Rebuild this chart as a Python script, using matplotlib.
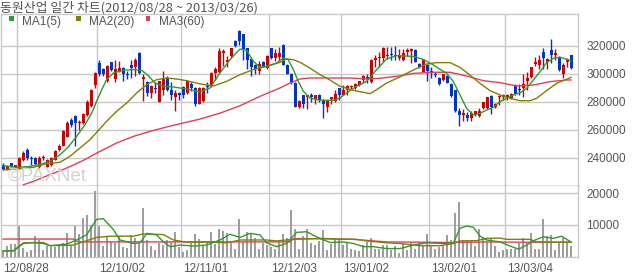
"""Daily candle chart with moving averages and volume (동원산업)."""
import numpy as np
import matplotlib
matplotlib.use("Agg")
import matplotlib.pyplot as plt
from matplotlib.patches import Rectangle

TITLE = "동원산업 일간 차트(2012/08/28 ~ 2013/03/26)"

opens = [
    235000, 232000, 236000, 233500, 232500, 238000, 245500, 240000, 240000, 233000,
    239500, 233500, 234500, 238500, 245500, 248500, 255000, 267000, 269500, 264500,
    264500, 270500, 277000, 292000, 307500, 303000, 294500, 308000, 296000, 301500,
    304000, 300000, 306500, 305000, 315000, 296500, 294000, 286500, 290000, 280000,
    288500, 297000, 288000, 283000, 286500, 290500, 286000, 292500, 290000, 278500,
    280500, 291500, 291000, 300500, 301500, 315000, 308500, 312500, 323500, 330500,
    328000, 318000, 310500, 306500, 302000, 308500, 304000, 318000, 311000, 312000,
    320500, 306500, 300000, 293500, 276500, 284500, 283500, 284500, 282000, 284500,
    281500, 276500, 282000, 280500, 289500, 285000, 288500, 290500, 289500, 292000,
    295500, 297500, 294000, 310000, 311000, 311000, 312500, 314000, 313000, 311000,
    309500, 315500, 316500, 317000, 307000, 301500, 306500, 301500, 299500, 297000,
    295500, 298500, 292500, 288000, 273500, 270500, 270500, 268000, 270500, 270000,
    275500, 275500, 284000, 276000, 283500, 283000, 283500, 282500, 292000, 289000,
    290000, 295000, 297500, 307000, 306000, 315500, 308000, 317000, 313000, 312000,
    299500, 308500, 313000,
]
highs = [
    236000, 235000, 236500, 235000, 240500, 245000, 247000, 241000, 240500, 241500,
    242000, 239000, 240500, 245500, 250000, 260000, 266500, 268000, 270500, 267000,
    272000, 281000, 289000, 301000, 309500, 304000, 306000, 308500, 309500, 309000,
    305000, 302000, 310000, 311500, 315500, 299500, 295000, 292000, 294000, 295000,
    302000, 298000, 294000, 288500, 287000, 291000, 295500, 294000, 290500, 290500,
    290500, 294000, 301000, 305000, 318500, 317500, 312500, 318500, 324000, 331500,
    328500, 318500, 311000, 307000, 309000, 309000, 313000, 318500, 317500, 319000,
    321000, 307000, 300500, 294000, 281500, 285000, 285000, 286000, 285000, 285500,
    282000, 281000, 283500, 288500, 290000, 292000, 292000, 292000, 293000, 295000,
    299000, 299500, 310500, 313000, 315500, 319000, 319000, 319000, 320000, 317500,
    317500, 318500, 318500, 317500, 307500, 310500, 307000, 305000, 301500, 297500,
    300000, 299000, 293000, 288500, 275500, 274500, 272500, 273000, 273500, 275500,
    280000, 283500, 284500, 279000, 285000, 285500, 285500, 286000, 292500, 292500,
    299500, 301500, 305000, 312000, 313000, 318000, 311000, 325000, 317500, 312500,
    307500, 311000, 313500,
]
lows = [
    231500, 231000, 233500, 233000, 232000, 237500, 238000, 235000, 235000, 232500,
    238500, 233000, 234000, 238000, 245000, 248000, 254500, 262000, 248500, 260000,
    264000, 270000, 276500, 289500, 298500, 298000, 294000, 302000, 294000, 301000,
    294500, 296000, 297000, 298500, 300000, 280500, 284000, 282500, 286500, 279500,
    285000, 287500, 281500, 273500, 281500, 282500, 285500, 287500, 277000, 278000,
    280000, 286500, 290500, 295500, 300500, 305500, 304500, 311500, 319000, 320500,
    309500, 303000, 298500, 299500, 299500, 304500, 303500, 310500, 309000, 309000,
    306000, 299500, 292500, 276000, 275500, 275500, 274500, 279500, 278500, 279500,
    268500, 272500, 278000, 280000, 281000, 284500, 284500, 289000, 289000, 291000,
    293000, 293000, 293500, 304500, 304500, 308500, 310500, 309500, 309500, 309500,
    309000, 312500, 307500, 308000, 304000, 301000, 295000, 297000, 297500, 292000,
    295000, 293000, 283500, 272500, 262500, 266500, 266500, 266500, 270000, 269000,
    275000, 275000, 271000, 275500, 277500, 281000, 281500, 282000, 285000, 285000,
    283500, 288500, 297000, 305500, 303000, 303000, 303500, 307500, 309500, 302000,
    297000, 304500, 303000,
]
closes = [
    232000, 234000, 234000, 234500, 240000, 243500, 240000, 239000, 235500, 240000,
    240500, 238500, 239500, 244500, 248500, 259000, 265000, 263000, 265000, 265000,
    271500, 280000, 288000, 300500, 299500, 299500, 305500, 302500, 303500, 304000,
    299500, 299000, 304000, 310000, 300500, 297500, 286000, 291000, 289000, 294500,
    296500, 288000, 285000, 286000, 284500, 285000, 295000, 290000, 278000, 290000,
    290000, 290500, 300500, 303500, 316500, 316000, 310000, 318000, 319500, 323500,
    317500, 309500, 305000, 303000, 307000, 305000, 312500, 311000, 315000, 315000,
    306500, 300000, 293500, 276500, 280500, 278500, 284500, 283500, 284500, 281000,
    278500, 280500, 283000, 285500, 285000, 288500, 291000, 291500, 292500, 294500,
    298000, 296500, 310000, 311000, 312000, 318500, 313500, 313000, 312500, 312500,
    315000, 317000, 317500, 308500, 304500, 310000, 302000, 301000, 299000, 292500,
    299500, 293500, 284000, 273000, 270500, 272000, 268000, 272000, 273000, 273500,
    279500, 283000, 276500, 278500, 284000, 285000, 284500, 285500, 285500, 288500,
    292500, 297000, 304500, 308000, 310000, 311500, 310500, 313500, 315000, 302500,
    306500, 310000, 304000,
]
volume = [
    1500, 3300, 3800, 3800, 9500, 2800, 1300, 2200, 6600, 5300,
    2200, 3400, 3000, 3000, 3500, 4300, 7300, 3500, 9600, 7200,
    12000, 13100, 9900, 20500, 9500, 3200, 6000, 4600, 4300, 6000,
    3000, 2700, 6700, 5900, 4300, 15200, 5200, 3200, 2000, 4300,
    3500, 5200, 4600, 7800, 3000, 1500, 2000, 4100, 7000, 5400,
    3500, 4600, 7800, 4000, 8600, 8000, 7400, 4400, 2500, 11700,
    4600, 7600, 7500, 5700, 2500, 4100, 3500, 3000, 2500, 4600,
    7200, 5700, 14500, 8600, 2500, 6300, 8600, 4300, 3500, 4800,
    8300, 2000, 3900, 5700, 5400, 3600, 4300, 2500, 2200, 1800,
    3600, 4600, 5700, 2300, 2300, 3600, 3600, 2000, 3300, 1200,
    3800, 2000, 4500, 2500, 4600, 3500, 7000, 3400, 2300, 3000,
    3500, 6800, 5200, 13700, 17200, 5200, 5200, 5200, 3300, 8600,
    6200, 4600, 5700, 3200, 1500, 2000, 2500, 2500, 2500, 4300,
    5700, 4300, 7500, 2500, 2500, 11800, 6400, 6800, 2000, 4600,
    5700, 4600, 3300,
]

ma5_x = [0, 3.4, 6.75, 10, 12.2, 14.25, 16.3, 18.4, 20.5, 22.2, 23.4, 24.7, 25.9, 27.6,
         30, 32.6, 34.7, 36.3, 38, 40, 42.6, 46, 49.25, 51.75, 54.25, 56.75, 59.25,
         60.9, 62.6, 64.25, 65.9, 68.4, 70.1, 71.3, 72.6, 73.8, 75.1, 76.75, 79.25,
         82.6, 84.25, 85.9, 88.4, 90.9, 93.4, 95.9, 98.4, 102.6, 105.1, 107.6, 109.25,
         110.9, 112.6, 114.25, 115.9, 117.6, 119.25, 120.9, 122.6, 124.25, 125.9,
         127.6, 129.25, 130.9, 132.6, 134.25, 135.9, 137.6, 139.25, 142]
ma5 = [234300, 233100, 233800, 235700, 238100, 242100, 247600, 255200, 263600, 271900,
       280200, 288600, 295700, 300500, 302400, 302900, 302400, 298600, 293300, 291000,
       290500, 289000, 287000, 289800, 300500, 310000, 317600, 316700, 308800, 304500,
       305200, 307600, 311200, 310000, 302900, 294500, 287400, 282600, 281000, 281000,
       282600, 286200, 291000, 294500, 302900, 310500, 312900, 312300, 310200, 306200,
       303100, 300200, 294300, 284800, 275200, 270500, 271700, 274000, 276000, 280000,
       282400, 284800, 286400, 289500, 295500, 301400, 307900, 311000, 311700, 309300]
ma20_x = [0, 3.4, 7.6, 10.9, 14.25, 16.75, 19.25, 21.75, 23.4, 25.9, 28.4, 30.9, 33.4,
          35.9, 38.4, 40.9, 43.4, 45.9, 49.25, 52.6, 55.9, 59.25, 62.6, 65.9, 69.25,
          70.9, 72.6, 74.25, 76.75, 79.25, 80.9, 84.25, 87.6, 90.1, 91.75, 93.4, 95.9,
          99.25, 102.6, 105.9, 108.4, 111.75, 114.25, 116.75, 119.25, 121.75, 124.25,
          126.75, 129.25, 131.75, 133.4, 135.9, 138.4, 140.9, 142]
ma20 = [231400, 231900, 233100, 235700, 236700, 241000, 246900, 252900, 258100, 266000,
        273100, 279000, 286200, 292100, 295700, 296900, 296200, 295000, 292700, 291200,
        294500, 299300, 302900, 305200, 308100, 310500, 310000, 308100, 304000, 299300,
        296900, 291000, 288100, 286700, 285700, 288600, 293300, 297700, 302700, 306900,
        307900, 307900, 304500, 299000, 293100, 287900, 284800, 282400, 280700, 280700,
        282400, 287900, 293100, 296000, 297400]
ma60_x = [5.1, 7.6, 11.75, 15.9, 20.1, 24.25, 28.4, 32.6, 36.75, 40.9, 45.1, 49.25,
          54.25, 59.25, 64.25, 69.25, 71.75, 74.25, 76.75, 80.9, 86.75, 90.9, 94.25,
          99.25, 102.6, 107.6, 111.75, 115.9, 120.1, 124.25, 128.4, 132.6, 136.75,
          140.9, 142]
ma60 = [220700, 223100, 227900, 232600, 238100, 244500, 250500, 255200, 258800, 261900,
        264800, 267600, 271800, 277100, 283800, 289800, 293300, 296200, 296900, 296900,
        296900, 296200, 296700, 298400, 300200, 301000, 301000, 298300, 295000, 293600,
        291200, 291900, 294300, 295500, 295500]

vma5_x = [0, 2.6, 5.1, 7.6, 10.1, 11.75, 15.9, 18.4, 20.9, 23.4, 25.1, 27.6, 29.25, 32.6,
          34.25, 36, 38.4, 40.1, 41.75, 44.25, 47.6, 50.9, 54.25, 56.75, 59.25, 61.75,
          64.25, 65.9, 68.4, 70.9, 73.4, 75.9, 78.4, 79.25, 81.75, 85.1, 87.6, 90.1,
          92.6, 95.9, 99.25, 102.6, 105.9, 110.1, 112.6, 114.25, 115.9, 117.6, 119.25,
          120.9, 124.25, 126.75, 128.9, 130.9, 133, 135.1, 137.6, 139.6, 142]
vma5 = [1700, 1800, 4100, 4400, 4100, 3400, 3900, 5200, 6800, 11700, 11900, 8500, 5200,
        4100, 4300, 7300, 6800, 4600, 3100, 3600, 3300, 3600, 5200, 7000, 6000, 7300,
        6800, 4300, 3100, 4100, 7600, 7800, 6200, 5700, 4400, 4600, 4100, 3100, 3100,
        2500, 2500, 3600, 4300, 4100, 4300, 8900, 9600, 9200, 6400, 5200, 4600, 3300,
        2300, 3600, 5200, 6200, 5700, 6400, 4600]
vma20_x = [0, 2.6, 5.1, 10.1, 11.75, 17.6, 19.25, 23.4, 26.75, 32.6, 35.1, 40.1, 42.6,
           45.9, 52.6, 55.9, 59.25, 65.9, 68.4, 72.6, 79.25, 84.25, 88.4, 90.9, 95.9,
           99.25, 104.25, 109.25, 112.6, 114.25, 118.4, 120.9, 124.25, 125.9, 131.75,
           133.4, 137.6, 142]
vma20 = [1700, 1800, 4300, 4400, 3400, 3600, 4300, 6000, 6400, 6400, 7100, 6900, 5200,
         4500, 4500, 4300, 5200, 5200, 4900, 5400, 5700, 5500, 5400, 4900, 4300, 4100,
         3400, 3400, 4100, 4900, 5000, 5700, 5800, 5400, 5400, 4600, 4500, 4500]
vma60_x = [0, 17.6, 18.8, 71.75, 72.6, 79.25, 87.6, 95.9, 104.25, 112.6, 120.9, 129.25, 142]
vma60 = [5500, 5500, 4600, 4600, 5600, 5600, 5400, 4600, 4500, 4400, 4600, 4500, 4500]

grid_idx = [4, 24, 45, 67, 85, 107, 126]
date_labels = ["12/08/28", "12/10/02", "12/11/01", "12/12/03", "13/01/02", "13/02/01", "13/03/04"]
price_ticks = [240000, 260000, 280000, 300000, 320000]
vol_ticks = [10000, 20000]

UP, DOWN = "#d00000", "#0033cc"
C_MA1, C_MA2, C_MA3 = "#2f9a2f", "#808000", "#e63c5a"
GRID, TXT = "#c8c8c8", "#555555"
W, H = 640, 280

plt.rcParams["font.family"] = ["Liberation Sans", "DejaVu Sans"]

fig = plt.figure(figsize=(W / 100, H / 100), dpi=100)
fig.patch.set_facecolor("white")


def px_box(left, top, right, bottom):
    return [left / W, 1 - bottom / H, (right - left) / W, (bottom - top) / H]


ax = fig.add_axes(px_box(1, 14.3, 578, 185.7))
axv = fig.add_axes(px_box(1, 185.7, 578, 256.5), sharex=ax)

x = np.arange(len(closes))
o, hi, lo, c = (np.array(a, dtype=float) for a in (opens, highs, lows, closes))
colors = np.where(c >= o, UP, DOWN)
body_lo = np.minimum(o, c)
body_h = np.maximum(np.abs(c - o), 700)

ax.vlines(x, lo, hi, colors=colors, lw=1, zorder=3)
ax.bar(x, body_h, bottom=body_lo, width=0.75, color=colors, lw=0, zorder=4)
ax.plot(ma60_x, ma60, color=C_MA3, lw=1, zorder=5)
ax.plot(ma20_x, ma20, color=C_MA2, lw=1, zorder=5)
ax.plot(ma5_x, ma5, color=C_MA1, lw=1, zorder=6)

axv.bar(x, volume, width=0.7, color="#9e9e9e", lw=0, zorder=3)
axv.plot(vma60_x, vma60, color=C_MA3, lw=1, zorder=5)
axv.plot(vma20_x, vma20, color=C_MA2, lw=1, zorder=5)
axv.plot(vma5_x, vma5, color=C_MA1, lw=1, zorder=6)

ax.set_xlim(-0.5, 143.75)
ax.set_ylim(220000, 342400)
axv.set_ylim(0, 22300)

for a, ticks in ((ax, price_ticks), (axv, vol_ticks)):
    a.set_yticks(ticks)
    a.set_yticklabels([str(t) for t in ticks])
    a.yaxis.tick_right()
    a.tick_params(axis="y", length=0, pad=6, labelsize=8.5, labelcolor=TXT)
    a.tick_params(axis="x", length=0, labelbottom=False)
    a.set_xticks([g - 0.5 for g in grid_idx])
    a.grid(True, color=GRID, lw=1, zorder=0)
    a.set_axisbelow(True)
    for s in a.spines.values():
        s.set_color(GRID)
        s.set_linewidth(1)
ax.spines["bottom"].set_color("#555555")
axv.spines["top"].set_visible(False)

# date labels under the volume panel, left aligned on the grid lines
label_pos = [-0.5] + [g - 0.5 for g in grid_idx[1:]]
for xp, lab in zip(label_pos, date_labels):
    axv.annotate(lab, (xp, 0), xytext=(1.5, -5), textcoords="offset points",
                 ha="left", va="top", fontsize=8.5, color=TXT,
                 annotation_clip=False)

fig.text(0.0, 1 - 7.5 / H, TITLE, fontsize=9.3, color=TXT, va="center", ha="left",
         family=["Noto Sans CJK KR", "DejaVu Sans"])

# legend row
for left, col, lab in ((9.3, C_MA1, "MA1(5)"), (76, C_MA2, "MA2(20)"), (145.7, C_MA3, "MA3(60)")):
    fig.add_artist(Rectangle((left / W, 1 - 20.5 / H), 4.5 / W, 4.5 / H,
                             transform=fig.transFigure, color=col, lw=0))
    fig.text((left + 13) / W, 1 - 21.5 / H, lab, fontsize=8.5, color=TXT,
             va="center", ha="left")

fig.text(8 / W, 1 - 176 / H, "©PAXNet", fontsize=13.5, color="#d2d2d2",
         va="center", ha="left", zorder=0)

fig.savefig("out.png", dpi=100)
